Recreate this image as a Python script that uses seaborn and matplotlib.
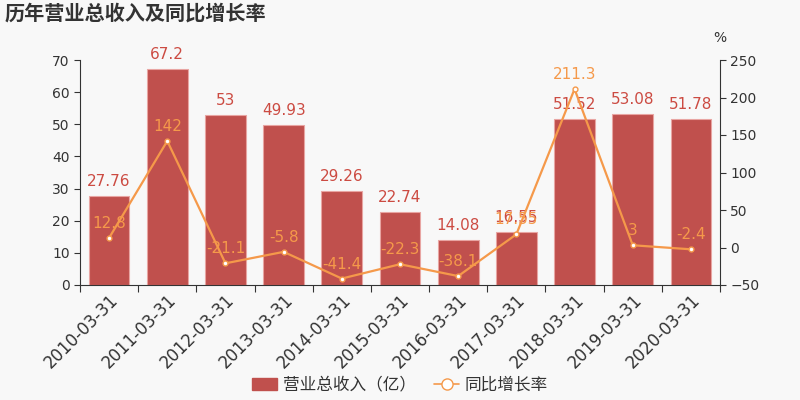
import matplotlib
matplotlib.use("Agg")
import matplotlib.pyplot as plt
import seaborn as sns
import pandas as pd
import numpy as np
from matplotlib.patches import FancyBboxPatch
from matplotlib.lines import Line2D

dates = ["2010-03-31", "2011-03-31", "2012-03-31", "2013-03-31", "2014-03-31",
         "2015-03-31", "2016-03-31", "2017-03-31", "2018-03-31", "2019-03-31",
         "2020-03-31"]
revenue = [27.76, 67.2, 53, 49.93, 29.26, 22.74, 14.08, 16.55, 51.52, 53.08, 51.78]
growth = [12.8, 142, -21.1, -5.8, -41.4, -22.3, -38.1, 17.55, 211.3, 3, -2.4]
revenue_labels = ["27.76", "67.2", "53", "49.93", "29.26", "22.74", "14.08", "16.55",
                  "51.52", "53.08", "51.78"]
growth_labels = ["12.8", "142", "-21.1", "-5.8", "-41.4", "-22.3", "-38.1", "17.55",
                 "211.3", "3", "-2.4"]

bar_color = "#c0504d"
line_color = "#f5994a"
text_color = "#333333"
bg = "#f8f8f8"

sns.set_style("ticks")
plt.rcParams["font.family"] = ["DejaVu Sans", "Noto Sans CJK SC"]

df = pd.DataFrame({"date": dates, "revenue": revenue, "growth": growth})
df["pos"] = np.arange(len(df))

fig = plt.figure(figsize=(8, 4), dpi=100, facecolor=bg)
ax = fig.add_axes([0.1, 0.2875, 0.8, 0.5625])
ax.set_facecolor(bg)

sns.barplot(data=df, x="date", y="revenue", color=bar_color, saturation=1,
            width=0.7, edgecolor="#e8a5a2", linewidth=0.8, ax=ax)
ax.set_ylim(0, 70)
ax.set_yticks(range(0, 71, 10))
ax.set_xlim(-0.5, len(df) - 0.5)
ax.set_xticks(np.arange(-0.5, len(df), 1.0))
ax.set_xticklabels([])
ax.set_xticks(df["pos"], minor=True)
ax.set_xticklabels(dates, minor=True, rotation=45, ha="right", rotation_mode="anchor",
                   fontsize=12, color=text_color)
ax.tick_params(axis="x", which="minor", length=0, pad=4)
ax.tick_params(axis="x", which="major", length=5, color=text_color)
ax.tick_params(axis="y", labelsize=10, colors=text_color, length=4)
ax.set_xlabel("")
ax.set_ylabel("")
for s in ["top", "right"]:
    ax.spines[s].set_visible(False)
ax.spines["left"].set_color(text_color)
ax.spines["bottom"].set_color(text_color)

for i, v in enumerate(revenue):
    ax.annotate(revenue_labels[i], (i, v), xytext=(0, 5), textcoords="offset points",
                ha="center", va="bottom", fontsize=11, color="#cc4b42")

ax2 = ax.twinx()
sns.lineplot(data=df, x="pos", y="growth", color=line_color, linewidth=1.6,
             marker="o", markersize=3.5, markerfacecolor="white",
             markeredgecolor=line_color, markeredgewidth=1, ax=ax2)
ax2.set_ylim(-50, 250)
ax2.set_yticks(range(-50, 251, 50))
ax2.set_xlim(-0.5, len(df) - 0.5)
ax2.set_ylabel("")
ax2.set_xlabel("")
ax2.tick_params(axis="y", labelsize=10, colors=text_color, length=4)
for s in ["top", "left", "bottom"]:
    ax2.spines[s].set_visible(False)
ax2.spines["right"].set_color(text_color)
for i, v in enumerate(growth):
    ax2.annotate(growth_labels[i], (i, v), xytext=(0, 5), textcoords="offset points",
                 ha="center", va="bottom", fontsize=11, color=line_color)

fig.text(0.9, 0.905, "%", ha="center", va="center", fontsize=10, color=text_color)
fig.text(0.006, 0.965, "历年营业总收入及同比增长率", ha="left", va="center",
         fontsize=14.5, fontweight="bold", color=text_color)

handles = [FancyBboxPatch((0, 0), 1, 1, boxstyle="round,pad=0.1", color=bar_color),
           Line2D([0], [0], color=line_color, marker="o", markersize=8,
                  markerfacecolor="white", markeredgecolor=line_color, linewidth=1.2)]
fig.legend(handles, ["营业总收入（亿）", "同比增长率"], loc="center",
           bbox_to_anchor=(0.5, 0.038), ncol=2, frameon=False, fontsize=12,
           handlelength=1.5, columnspacing=1.1, handletextpad=0.35,
           labelcolor=text_color)

fig.savefig("out.png", dpi=100, facecolor=bg)
